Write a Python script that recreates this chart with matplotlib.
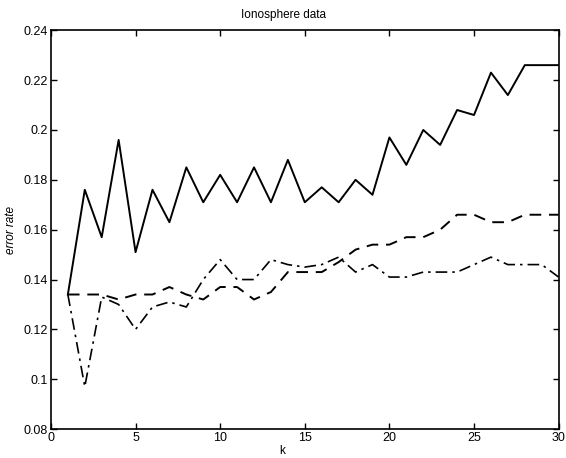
import numpy as np
import matplotlib
matplotlib.use('Agg')
import matplotlib.pyplot as plt

plt.rcParams['font.family'] = ['Liberation Sans', 'DejaVu Sans']

k = np.arange(1, 31)

# solid curve
err_solid = [0.134, 0.176, 0.157, 0.196, 0.151, 0.176, 0.163, 0.185, 0.171, 0.182,
             0.171, 0.185, 0.171, 0.188, 0.171, 0.177, 0.171, 0.180, 0.174, 0.197,
             0.186, 0.200, 0.194, 0.208, 0.206, 0.223, 0.214, 0.226, 0.226, 0.226]
# dashed curve
err_dashed = [0.134, 0.134, 0.134, 0.132, 0.134, 0.134, 0.137, 0.134, 0.132, 0.137,
              0.137, 0.132, 0.135, 0.143, 0.143, 0.143, 0.147, 0.152, 0.154, 0.154,
              0.157, 0.157, 0.160, 0.166, 0.166, 0.163, 0.163, 0.166, 0.166, 0.166]
# dash-dot curve
err_dashdot = [0.134, 0.097, 0.133, 0.130, 0.120, 0.129, 0.131, 0.129, 0.140, 0.148,
               0.140, 0.140, 0.148, 0.146, 0.145, 0.146, 0.149, 0.143, 0.146, 0.141,
               0.141, 0.143, 0.143, 0.143, 0.146, 0.149, 0.146, 0.146, 0.146, 0.141]

xticks = [0, 5, 10, 15, 20, 25, 30]
yticks = [0.08, 0.1, 0.12, 0.14, 0.16, 0.18, 0.2, 0.22, 0.24]
ytick_labels = ['0.08', '0.1', '0.12', '0.14', '0.16', '0.18', '0.2', '0.22', '0.24']

fig = plt.figure(figsize=(5.66, 4.58), dpi=100)
ax = fig.add_axes([0.09, 0.063, 0.897, 0.871])

ax.plot(k, err_solid, color='black', lw=1.4, ls='-')
ax.plot(k, err_dashed, color='black', lw=1.4, ls=(0, (6, 4)))
ax.plot(k, err_dashdot, color='black', lw=1.2, ls=(0, (7, 3, 1.5, 3)))

ax.set_xlim(0, 30)
ax.set_ylim(0.08, 0.24)
ax.set_xticks(xticks)
ax.set_yticks(yticks)
ax.set_yticklabels(ytick_labels)
ax.tick_params(direction='in', top=True, right=True, length=4, width=1,
               labelsize=9, pad=2, colors='black')
for s in ax.spines.values():
    s.set_linewidth(1.2)

# the scanned original has title and xlabel a bit left of the axes centre
ax.set_title('Ionosphere data', fontsize=8.5, pad=9, x=0.459)
ax.set_xlabel('k', fontsize=8.5, labelpad=1)
ax.xaxis.set_label_coords(0.456, -0.04)
ax.set_ylabel('error rate', fontsize=8.5, style='italic', labelpad=5)

fig.savefig('out.png', dpi=100)
